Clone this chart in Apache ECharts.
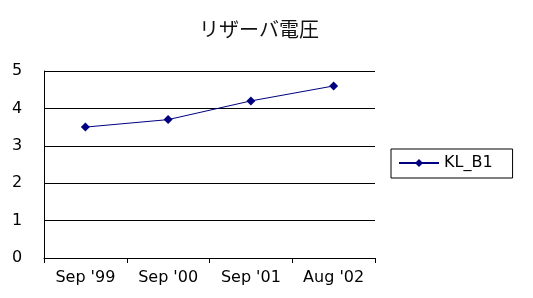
<!DOCTYPE html>
<html><head><meta charset="utf-8">
<script src="https://cdn.jsdelivr.net/npm/echarts@6/dist/echarts.min.js"></script>
<style>html,body{margin:0;padding:0;background:#fff}#c{width:533px;height:298px}</style>
</head><body><div id="c"></div>
<script>
const categories = ["Sep '99", "Sep '00", "Sep '01", "Aug '02"];
const seriesName = "KL_B1";
const values = [3.5, 3.7, 4.2, 4.6];
const yTicks = [0, 1, 2, 3, 4, 5];

const chart = echarts.init(document.getElementById('c'));
chart.setOption({
  animation: false,
  backgroundColor: '#fff',
  title: {
    text: 'リザーバ電圧', left: 254, top: 14, textAlign: 'center',
    textStyle: { fontFamily: 'Noto Sans CJK JP', fontSize: 20, fontWeight: 'normal', color: '#111' }
  },
  legend: {
    left: 391, top: 149, orient: 'vertical',
    itemWidth: 40, itemHeight: 10, itemGap: 0,
    padding: [6, 20, 7, 7],
    borderColor: '#000', borderWidth: 1, borderRadius: 0,
    textStyle: { fontFamily: 'DejaVu Sans', fontSize: 16, color: '#000' },
    data: [seriesName]
  },
  grid: { left: 44, right: 158, top: 71, bottom: 40 },
  xAxis: {
    type: 'category', data: categories, boundaryGap: true,
    axisLine: { lineStyle: { color: '#000', width: 1 } },
    axisTick: { show: true, inside: false, length: 5, lineStyle: { color: '#000' } },
    axisLabel: { color: '#000', fontFamily: 'DejaVu Sans', fontSize: 16, margin: 12 }
  },
  yAxis: {
    type: 'value', min: yTicks[0], max: yTicks[yTicks.length - 1], interval: 1,
    axisLine: { show: true, lineStyle: { color: '#000', width: 1 } },
    axisTick: { show: false },
    splitLine: { lineStyle: { color: '#000', width: 1 } },
    axisLabel: { color: '#000', fontFamily: 'DejaVu Sans', fontSize: 16, margin: 32, align: 'left' }
  },
  series: [{
    name: seriesName, type: 'line', data: values,
    symbol: 'diamond', symbolSize: 9,
    lineStyle: { color: '#000080', width: 1 },
    itemStyle: { color: '#000080' }
  }]
});
</script></body></html>
